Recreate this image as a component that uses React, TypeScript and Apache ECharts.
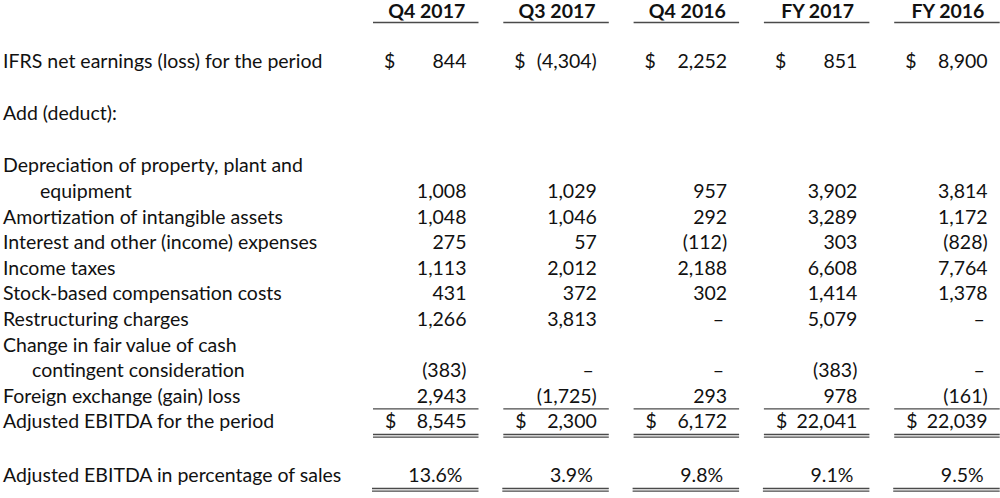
import React, { useEffect, useRef } from "react";
import * as echarts from "echarts";

// ---- data ----
const COLUMNS = ["Q4 2017", "Q3 2017", "Q4 2016", "FY 2017", "FY 2016"];
const NET_EARNINGS = [844, -4304, 2252, 851, 8900];
const DEPRECIATION = [1008, 1029, 957, 3902, 3814];
const AMORTIZATION = [1048, 1046, 292, 3289, 1172];
const INTEREST = [275, 57, -112, 303, -828];
const INCOME_TAXES = [1113, 2012, 2188, 6608, 7764];
const STOCK_COMP = [431, 372, 302, 1414, 1378];
const RESTRUCTURING = [1266, 3813, null, 5079, null];
const CONTINGENT = [-383, null, null, -383, null];
const FOREIGN_EXCHANGE = [2943, -1725, 293, 978, -161];
const ADJ_EBITDA = [8545, 2300, 6172, 22041, 22039];
const ADJ_EBITDA_PCT = [13.6, 3.9, 9.8, 9.1, 9.5];

const ROW_LABEL_NET = "IFRS net earnings (loss) for the period";
const ROW_LABEL_ADD = "Add (deduct):";
// detail rows: [first line, continuation line or null, values]
const DETAIL_ROWS: [string, string | null, (number | null)[]][] = [
  ["Depreciation of property, plant and", "equipment", DEPRECIATION],
  ["Amortization of intangible assets", null, AMORTIZATION],
  ["Interest and other (income) expenses", null, INTEREST],
  ["Income taxes", null, INCOME_TAXES],
  ["Stock-based compensation costs", null, STOCK_COMP],
  ["Restructuring charges", null, RESTRUCTURING],
  ["Change in fair value of cash", "contingent consideration", CONTINGENT],
  ["Foreign exchange (gain) loss", null, FOREIGN_EXCHANGE],
];
const ROW_LABEL_TOTAL = "Adjusted EBITDA for the period";
const ROW_LABEL_PCT = "Adjusted EBITDA in percentage of sales";

// ---- layout ----
const FONT_FAMILY = "Lato";
const FS = 19.5;
const COL_LEFT0 = 373;
const COL_STEP = 130.3;
const COL_W = 105.5;
const LABEL_X = 3;
const INDENTS = [40, 32];
const HEADER_BASE = 17.5;
const HEADER_LINE = 22.5;
const NET_BASE = 68;
const ADD_BASE = 120;
const DETAIL_BASE0 = 172;
const ROW_H = 25.6;
const PCT_BASE = 481.5;
const TEXT_COLOR = "#111";
const LINE_COLOR = "#4a4a4a";

function fmt(v: number | null): string {
  if (v === null) return "\u2013";
  const s = Math.abs(v).toLocaleString("en-US");
  return v < 0 ? `(${s})` : s;
}

export default function App() {
  const ref = useRef<HTMLDivElement>(null);
  useEffect(() => {
    if (!ref.current) return;
    const chart = echarts.init(ref.current, null, { renderer: "svg" });
    const els: any[] = [];
    const yMid = (base: number) => base - FS * 0.36;
    const text = (t: string, x: number, base: number, align: string, bold = false) => {
      els.push({
        type: "text",
        style: {
          text: t,
          x,
          y: yMid(base),
          fill: TEXT_COLOR,
          font: `${bold ? "bold" : "normal"} ${FS}px ${FONT_FAMILY}`,
          textAlign: align,
          textVerticalAlign: "middle",
          align,
          verticalAlign: "middle",
        },
        silent: true,
      });
    };
    const hline = (x1: number, x2: number, y: number, w = 1.4) => {
      els.push({
        type: "line",
        shape: { x1, y1: y, x2, y2: y },
        style: { stroke: LINE_COLOR, lineWidth: w },
        silent: true,
      });
    };
    const colL = (i: number) => COL_LEFT0 + i * COL_STEP;
    const colR = (i: number) => colL(i) + COL_W;
    const valueCell = (v: number | null, i: number, base: number) => {
      if (v === null) text(fmt(v), colR(i) - 15, base, "right");
      else text(fmt(v), colR(i) - 12, base, "right");
    };

    // header
    COLUMNS.forEach((c, i) => {
      text(c, (colL(i) + colR(i)) / 2 + 1, HEADER_BASE, "center", true);
      hline(colL(i), colR(i), HEADER_LINE);
    });

    // net earnings
    text(ROW_LABEL_NET, LABEL_X, NET_BASE, "left");
    NET_EARNINGS.forEach((v, i) => {
      text("$", colL(i) + 11, NET_BASE, "left");
      valueCell(v, i, NET_BASE);
    });

    text(ROW_LABEL_ADD, LABEL_X, ADD_BASE, "left");

    let k = 0;
    DETAIL_ROWS.forEach(([l1, l2, vals], r) => {
      text(l1, LABEL_X, DETAIL_BASE0 + k * ROW_H, "left");
      if (l2) {
        k++;
        text(l2, INDENTS[r === 0 ? 0 : 1], DETAIL_BASE0 + k * ROW_H, "left");
      }
      const base = DETAIL_BASE0 + k * ROW_H;
      vals.forEach((v, i) => valueCell(v, i, base));
      k++;
    });
    const lastBase = DETAIL_BASE0 + (k - 1) * ROW_H;
    const totalBase = DETAIL_BASE0 + k * ROW_H;

    COLUMNS.forEach((_, i) => {
      hline(colL(i), colR(i), lastBase + 6.5);
      hline(colL(i), colR(i), totalBase + 6.5, 1.3);
      hline(colL(i), colR(i), totalBase + 9.2, 1.3);
      hline(colL(i) - 1, colR(i), PCT_BASE + 7, 1.3);
      hline(colL(i) - 1, colR(i), PCT_BASE + 9.7, 1.3);
    });

    text(ROW_LABEL_TOTAL, LABEL_X, totalBase, "left");
    ADJ_EBITDA.forEach((v, i) => {
      text("$", colL(i) + 12, totalBase, "left");
      valueCell(v, i, totalBase);
    });

    text(ROW_LABEL_PCT, LABEL_X, PCT_BASE, "left");
    ADJ_EBITDA_PCT.forEach((v, i) => {
      text(`${v.toFixed(1)}%`, colR(i) - 16, PCT_BASE, "right");
    });

    chart.setOption({
      animation: false,
      backgroundColor: "#ffffff",
      graphic: { elements: els },
    });
    return () => chart.dispose();
  }, []);
  return (
    <div
      ref={ref}
      style={{ position: "fixed", left: 0, top: 0, width: 1000, height: 498 }}
    />
  );
}
